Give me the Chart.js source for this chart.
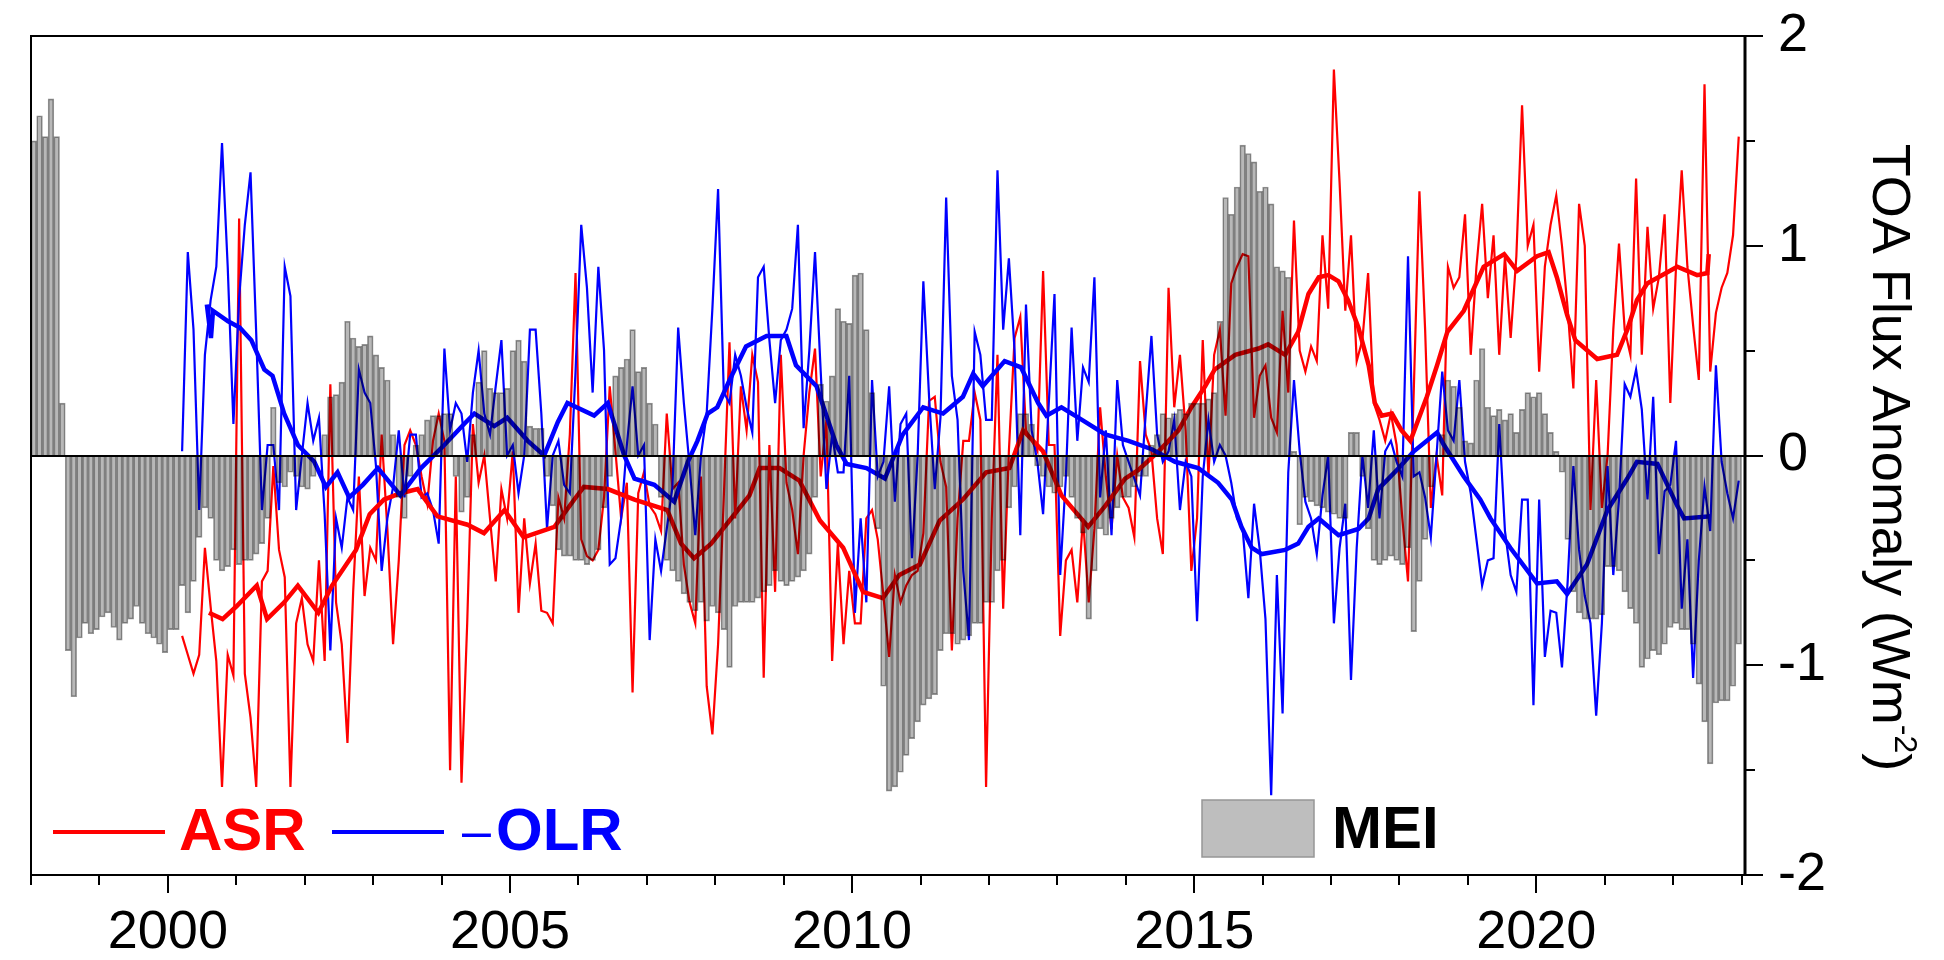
<!DOCTYPE html>
<html>
<head>
<meta charset="utf-8">
<script src="https://cdn.jsdelivr.net/npm/chart.js@4.4.1/dist/chart.umd.min.js"></script>
<style>
  html, body { margin: 0; padding: 0; background: #fff; }
  canvas { display: block; }
</style>
</head>
<body>
<canvas id="chart" width="1944" height="960"></canvas>
<script>
var FONT = "'Liberation Sans', Arial, sans-serif";

// MEI, monthly from Jan 1998 (one row per year)
var meiStart = 1998;
var meiValues = [
   1.50,  1.62,  1.52,  1.70,  1.52,  0.25, -0.93, -1.15, -0.87, -0.80, -0.85, -0.83,
  -0.77, -0.75, -0.82, -0.88, -0.80, -0.78, -0.72, -0.80, -0.85, -0.87, -0.90, -0.94,
  -0.83, -0.83, -0.62, -0.75, -0.60, -0.39, -0.25, -0.30, -0.50, -0.55, -0.53, -0.45,
  -0.52, -0.50, -0.50, -0.47, -0.42, -0.30,  0.23, -0.13, -0.15, -0.08, -0.10, -0.15,
  -0.16, -0.10,  0.00,  0.10,  0.28,  0.29,  0.35,  0.64,  0.56,  0.52,  0.53,  0.57,
   0.48,  0.42,  0.36,  0.10, -0.20, -0.30, -0.10,  0.05,  0.10,  0.17,  0.19,  0.19,
   0.20,  0.20, -0.10, -0.27, -0.20,  0.10,  0.35,  0.50,  0.32,  0.30,  0.30,  0.32,
   0.50,  0.55,  0.45,  0.14,  0.13,  0.13, -0.10, -0.24, -0.45, -0.48, -0.48, -0.50,
  -0.50, -0.52, -0.50, -0.45, -0.25, -0.10,  0.38,  0.42,  0.46,  0.60,  0.40,  0.42,
   0.25,  0.15, -0.20, -0.50, -0.55, -0.60, -0.66, -0.70, -0.74, -0.70, -0.79, -0.72,
  -0.75, -0.83, -1.01, -0.72, -0.70, -0.70, -0.70, -0.68, -0.65, -0.62, -0.55, -0.60,
  -0.62, -0.60, -0.58, -0.55, -0.47, -0.20,  0.34,  0.26,  0.38,  0.70,  0.64,  0.63,
   0.86,  0.87,  0.60,  0.30, -0.35, -1.10, -1.60, -1.58, -1.51, -1.43, -1.35, -1.27,
  -1.19, -1.16, -1.14, -0.93, -0.85, -0.85, -0.90, -0.88, -0.86, -0.80, -0.80, -0.70,
  -0.70, -0.55, -0.50, -0.25, -0.15,  0.20,  0.20,  0.15, -0.05, -0.10, -0.15, -0.18,
  -0.15, -0.10, -0.20, -0.30, -0.37, -0.78, -0.55, -0.35, -0.38, -0.30, -0.25, -0.20,
  -0.20, -0.15, -0.10, -0.10,  0.05,  0.10,  0.20,  0.18,  0.20,  0.22,  0.20,  0.25,
   0.25,  0.25,  0.27,  0.30,  0.64,  1.23,  1.15,  1.28,  1.48,  1.44,  1.40,  1.26,
   1.28,  1.20,  0.90,  0.88,  0.85,  0.02, -0.33, -0.20, -0.22, -0.24, -0.25, -0.27,
  -0.28, -0.30, -0.30,  0.11,  0.11, -0.10, -0.35, -0.50, -0.52, -0.50, -0.48, -0.50,
  -0.52, -0.44, -0.84, -0.60, -0.40, -0.15,  0.00,  0.10,  0.36,  0.33,  0.23,  0.07,
   0.06,  0.36,  0.51,  0.23,  0.19,  0.22,  0.17,  0.20,  0.11,  0.22,  0.30,  0.28,
   0.30,  0.20,  0.11,  0.02, -0.08, -0.40, -0.65, -0.75, -0.78, -0.78, -0.78, -0.76,
  -0.53, -0.53, -0.55, -0.65, -0.73, -0.80, -1.01, -0.97, -0.93, -0.95, -0.90, -0.82,
  -0.80, -0.83, -0.83, -0.90, -1.09, -1.27, -1.47, -1.18, -1.17, -1.17, -1.10, -0.90
];

// ASR and -OLR anomalies, monthly from Mar 2000
var fluxStart = 2000 + 2 / 12;
var asrValues = [
                 -0.86, -0.95, -1.04, -0.95, -0.44, -0.72, -0.98, -1.58, -0.95, -1.05,
   1.13, -1.04, -1.25, -1.58, -0.60, -0.55, -0.05, -0.45, -0.58, -1.58, -0.80, -0.68,
  -0.90, -0.98, -0.50, -0.98,  0.34, -0.70, -0.90, -1.37, -0.65, -0.10, -0.67, -0.44,
  -0.50,  0.10, -0.35, -0.90, -0.50,  0.05,  0.12,  0.05, -0.10, -0.23,  0.07,  0.20,
   0.07, -1.50, -0.10, -1.56, -0.80,  0.15, -0.13,  0.00, -0.30, -0.60, -0.16, -0.30,
   0.02, -0.75, -0.30, -0.61, -0.42, -0.74, -0.75, -0.80, -0.20, -0.30,  0.10,  0.87,
  -0.40, -0.48, -0.50, -0.45, -0.20,  0.33,  0.02, -0.30, -0.13, -1.13, -0.18, -0.08,
  -0.24, -0.28, -0.36,  0.20, -0.16, -0.13, -0.52, -0.70, -0.80, -0.10, -1.10, -1.33,
  -0.90, -0.20,  0.54, -0.30,  0.33,  0.12,  0.48,  0.35, -1.06,  0.05, -0.65,  0.48,
  -0.13, -0.26, -0.47,  0.00,  0.30,  0.51, -0.10,  0.17, -0.98, -0.42, -0.90, -0.55,
  -0.80, -0.80, -0.30, -0.26, -0.40, -0.67, -0.96, -0.57, -0.70, -0.62, -0.57, -0.55,
  -0.37,  0.26,  0.28, -0.03, -0.15, -0.93, -0.30,  0.07,  0.07,  0.30,  0.17, -1.58,
  -0.30,  0.48, -0.73,  0.02,  0.56,  0.66,  0.12,  0.07,  0.02,  0.88,  0.05,  0.05,
  -0.86, -0.50, -0.45, -0.70, -0.30, -0.70, -0.35,  0.23, -0.10, -0.35,  0.00, -0.20,
  -0.25, -0.39,  0.45,  0.10,  0.02, -0.30, -0.47,  0.80,  0.23,  0.48,  0.12, -0.55,
  -0.30,  0.55, -0.10,  0.48,  0.60,  0.19,  0.82,  0.90,  0.96,  0.95,  0.18,  0.38,
   0.43,  0.18,  0.11,  0.69,  0.30,  1.12,  0.50,  0.40,  0.52,  0.45,  1.05,  0.70,
   1.84,  1.30,  0.69,  1.05,  0.45,  0.55,  0.87,  0.25,  0.17,  0.07,  0.20,  0.05,
  -0.30, -0.60,  0.30,  1.26,  0.60, -0.25,  0.00, -0.19,  0.90,  0.80,  0.85,  1.15,
   0.48,  0.90,  1.20,  0.75,  1.05,  0.48,  0.95,  0.56,  0.95,  1.67,  1.00,  1.10,
   0.40,  0.90,  1.10,  1.24,  1.00,  0.70,  0.32,  1.20,  1.00, -0.26,  0.36, -0.25,
   0.00,  0.60,  1.01,  0.60,  0.48,  1.32,  0.48,  1.09,  0.70,  0.85,  1.15,  0.25,
   0.90,  1.36,  0.90,  0.62,  0.36,  1.77,  0.40,  0.68,  0.80,  0.87,  1.05,  1.52
];
var olrValues = [
                  0.02,  0.97,  0.60, -0.26,  0.48,  0.74,  0.90,  1.49,  0.90,  0.15,
   0.75,  1.10,  1.35,  0.58, -0.26,  0.05,  0.05, -0.26,  0.90,  0.76, -0.26,  0.00,
   0.25,  0.07,  0.18, -0.28, -0.93, -0.30, -0.44, -0.20, -0.26,  0.41,  0.30,  0.25,
  -0.05, -0.55, -0.30, -0.15,  0.12, -0.20,  0.10,  0.10, -0.20, -0.18, -0.26, -0.42,
   0.51,  0.12,  0.25,  0.20, -0.03,  0.30,  0.50,  0.20,  0.10,  0.33,  0.55,  0.00,
   0.05, -0.18,  0.00,  0.60,  0.60,  0.20, -0.35,  0.00,  0.07, -0.14, -0.18,  0.40,
   1.10,  0.80,  0.30,  0.90,  0.50, -0.52, -0.49, -0.30,  0.05,  0.33,  0.00,  0.05,
  -0.88, -0.40, -0.55, -0.35, -0.15,  0.61,  0.25, -0.05, -0.38,  0.00,  0.20,  0.70,
   1.27,  0.30,  0.25,  0.48,  0.38,  0.23,  0.11,  0.85,  0.90,  0.55,  0.25,  0.55,
   0.60,  0.70,  1.10,  0.13,  0.50,  0.97,  0.40, -0.16,  0.10, -0.08, -0.08,  0.38,
  -0.75, -0.30, -0.70,  0.36, -0.10, -0.03,  0.33, -0.22,  0.15,  0.20, -0.49,  0.00,
   0.83,  0.28, -0.16,  0.18,  1.23,  0.38,  0.17, -0.55, -0.88,  0.59,  0.48,  0.17,
   0.17,  1.36,  0.60,  0.94,  0.50, -0.38,  0.72,  0.12, -0.03, -0.28,  0.25,  0.77,
  -0.57, -0.10,  0.61,  0.07,  0.42,  0.35,  0.85, -0.20,  0.12, -0.38,  0.36,  0.05,
  -0.03, -0.11, -0.19,  0.20,  0.57,  0.10, -0.03,  0.02,  0.17, -0.26, -0.03, -0.10,
  -0.79, -0.10,  0.17, -0.03,  0.05,  0.00, -0.13, -0.30, -0.35, -0.68, -0.23, -0.45,
  -0.78, -1.62, -0.57, -1.23, -0.08,  0.36,  0.02, -0.22, -0.30, -0.47, -0.19,  0.00,
  -0.80, -0.44, -0.23, -1.07, -0.44,  0.00, -0.25,  0.12, -0.30,  0.02,  0.07, -0.03,
  -0.10,  0.95, -0.10, -0.08, -0.20, -0.39,  0.00,  0.40,  0.12,  0.07,  0.36, -0.03,
  -0.18, -0.40, -0.62, -0.50, -0.49,  0.15, -0.36, -0.57, -0.65, -0.21, -0.21, -1.19,
  -0.21, -0.96, -0.74, -0.75, -1.01, -0.60, -0.05, -0.45, -0.67, -0.80, -1.24, -0.80,
  -0.05, -0.57, -0.21,  0.34,  0.28,  0.41,  0.22, -0.21,  0.28, -0.47, -0.17, -0.14,
   0.07, -0.73, -0.40, -1.06, -0.50, -0.15, -0.36,  0.43, -0.03, -0.18, -0.30, -0.12
];

// 12-month running means
var asrMeanYears = [
  2000.6, 2000.8, 2001.0, 2001.3, 2001.45, 2001.7, 2001.9, 2002.2, 2002.4, 2002.75,
  2002.95, 2003.16, 2003.4, 2003.65, 2003.94, 2004.38, 2004.62, 2004.92, 2005.2, 2005.65,
  2005.94, 2006.08, 2006.43, 2006.82, 2007.3, 2007.5, 2007.69, 2007.94, 2008.21, 2008.5,
  2008.65, 2008.94, 2009.23, 2009.53, 2009.87, 2010.16, 2010.45, 2010.69, 2010.99, 2011.28,
  2011.62, 2011.96, 2012.3, 2012.5, 2012.79, 2013.06, 2013.45, 2013.7, 2013.99, 2014.18,
  2014.48, 2014.77, 2014.96, 2015.16, 2015.3, 2015.6, 2015.94, 2016.08, 2016.33, 2016.52,
  2016.67, 2016.82, 2016.96, 2017.11, 2017.25, 2017.4, 2017.55, 2017.64, 2017.74, 2017.89,
  2018.03, 2018.16, 2018.4, 2018.55, 2018.7, 2018.94, 2019.23, 2019.53, 2019.72, 2020.01,
  2020.18, 2020.3, 2020.45, 2020.57, 2020.89, 2021.18, 2021.33, 2021.47, 2021.62, 2022.06,
  2022.35, 2022.5, 2022.52
];
var asrMeanValues = [
  -0.75, -0.78, -0.72, -0.62, -0.78, -0.70, -0.62, -0.75, -0.62, -0.45,
  -0.28, -0.21, -0.18, -0.16, -0.29, -0.33, -0.37, -0.26, -0.39, -0.34,
  -0.21, -0.15, -0.16, -0.21, -0.26, -0.42, -0.49, -0.42, -0.31, -0.19,
  -0.06, -0.06, -0.12, -0.31, -0.44, -0.65, -0.68, -0.57, -0.52, -0.31,
  -0.21, -0.08, -0.06,  0.12,  0.02, -0.19, -0.34, -0.24, -0.11, -0.07,
   0.02,  0.12,  0.23,  0.33,  0.41,  0.48,  0.51,  0.53,  0.48,  0.59,
   0.77,  0.85,  0.86,  0.83,  0.74,  0.61,  0.43,  0.25,  0.19,  0.20,
   0.12,  0.07,  0.28,  0.43,  0.59,  0.69,  0.90,  0.96,  0.88,  0.95,
   0.97,  0.85,  0.67,  0.55,  0.46,  0.48,  0.60,  0.74,  0.82,  0.90,
   0.86,  0.87,  0.96
];
var olrMeanYears = [
  2000.57, 2000.63, 2000.66, 2000.88, 2001.05, 2001.22, 2001.41, 2001.53, 2001.7, 2001.9,
  2002.14, 2002.31, 2002.48, 2002.65, 2002.85, 2003.07, 2003.4, 2003.7, 2004.04, 2004.33,
  2004.48, 2004.77, 2004.96, 2005.26, 2005.5, 2005.7, 2005.84, 2006.23, 2006.43, 2006.67,
  2006.82, 2007.11, 2007.4, 2007.6, 2007.74, 2007.89, 2008.03, 2008.21, 2008.45, 2008.75,
  2009.04, 2009.18, 2009.48, 2009.77, 2009.92, 2010.21, 2010.48, 2010.74, 2011.04, 2011.33,
  2011.62, 2011.77, 2011.91, 2012.23, 2012.47, 2012.72, 2012.84, 2013.06, 2013.36, 2013.7,
  2014.04, 2014.38, 2014.72, 2015.06, 2015.35, 2015.55, 2015.69, 2015.84, 2015.99, 2016.33,
  2016.52, 2016.67, 2016.82, 2017.11, 2017.4, 2017.55, 2017.69, 2017.84, 2017.99, 2018.21,
  2018.55, 2018.65, 2018.94, 2019.18, 2019.33, 2019.62, 2020.01, 2020.3, 2020.45, 2020.74,
  2021.04, 2021.33, 2021.47, 2021.77, 2022.06, 2022.16, 2022.55
];
var olrMeanValues = [
   0.72,  0.56,  0.69,  0.64,  0.61,  0.55,  0.41,  0.38,  0.20,  0.05,
  -0.03, -0.15, -0.08, -0.20, -0.14, -0.06, -0.19, -0.06,  0.05,  0.15,
   0.20,  0.14,  0.18,  0.07,  0.00,  0.16,  0.25,  0.19,  0.25,  0.00,
  -0.11, -0.14, -0.22, -0.03,  0.07,  0.20,  0.23,  0.36,  0.52,  0.57,
   0.57,  0.43,  0.33,  0.05, -0.04, -0.06, -0.11,  0.10,  0.23,  0.20,
   0.28,  0.39,  0.33,  0.45,  0.42,  0.25,  0.19,  0.23,  0.17,  0.10,
   0.07,  0.03, -0.03, -0.06, -0.13, -0.21, -0.34, -0.44, -0.47, -0.45,
  -0.42, -0.34, -0.30, -0.38, -0.35, -0.30, -0.16, -0.11, -0.06,  0.02,
   0.11,  0.05, -0.10, -0.21, -0.30, -0.44, -0.61, -0.60, -0.66, -0.52,
  -0.26, -0.11, -0.03, -0.04, -0.24, -0.30, -0.29
];

var xTickYears = [2000, 2005, 2010, 2015, 2020];
var yTickValues = [-2, -1, 0, 1, 2];

function monthly(start, values) {
    return values.map(function(v, i) {
        return { x: start + (i + 0.5) / 12, y: v };
    });
}
function paired(xs, ys) {
    return xs.map(function(x, i) {
        return { x: x, y: ys[i] };
    });
}

// frame, ticks, zero line, legend and the axis title
var decorPlugin = {
    id: 'decor',
    beforeDatasetDraw: function(chart, args) {
        if (args.meta.type === 'bar') {
            chart.ctx.save();
            // bars darken the lines below them, as in the original
            chart.ctx.globalCompositeOperation = 'multiply';
        }
    },
    afterDatasetDraw: function(chart, args) {
        if (args.meta.type === 'bar') {
            chart.ctx.restore();
        }
    },
    afterDatasetsDraw: function(chart) {
        var ctx = chart.ctx;
        var a = chart.chartArea;
        var xs = chart.scales.x;
        var ys = chart.scales.y;
        ctx.save();

        ctx.strokeStyle = '#000';
        ctx.lineWidth = 2;
        var y0 = Math.round(ys.getPixelForValue(0));
        ctx.beginPath();
        ctx.moveTo(a.left, y0);
        ctx.lineTo(a.right, y0);
        ctx.stroke();

        ctx.strokeRect(a.left, a.top, a.right - a.left, a.bottom - a.top);
        ctx.lineWidth = 3;
        ctx.beginPath();
        ctx.moveTo(a.right, a.top);
        ctx.lineTo(a.right, a.bottom);
        ctx.stroke();

        ctx.lineWidth = 2;
        ctx.beginPath();
        for (var yr = 1998; yr <= 2023; yr++) {
            var px = Math.round(xs.getPixelForValue(yr));
            ctx.moveTo(px, a.bottom);
            ctx.lineTo(px, a.bottom + (yr % 5 === 0 ? 18 : 10));
        }
        for (var v = -2; v <= 2; v += 0.5) {
            var py = Math.round(ys.getPixelForValue(v));
            ctx.moveTo(a.right, py);
            ctx.lineTo(a.right + (v % 1 === 0 ? 18 : 10), py);
        }
        ctx.stroke();

        // legend
        var base = a.top + 814;
        ctx.textBaseline = 'alphabetic';
        ctx.textAlign = 'left';
        ctx.lineWidth = 4;
        ctx.strokeStyle = 'rgb(255,0,0)';
        ctx.beginPath();
        ctx.moveTo(a.left + 22, base - 18);
        ctx.lineTo(a.left + 134, base - 18);
        ctx.stroke();
        ctx.fillStyle = 'rgb(255,0,0)';
        ctx.font = 'bold 60px ' + FONT;
        ctx.fillText('ASR', a.left + 148, base);

        ctx.strokeStyle = 'rgb(0,0,255)';
        ctx.beginPath();
        ctx.moveTo(a.left + 301, base - 18);
        ctx.lineTo(a.left + 413, base - 18);
        ctx.stroke();
        ctx.fillStyle = 'rgb(0,0,255)';
        ctx.font = '52px ' + FONT;
        ctx.fillText('\u2013', a.left + 431, base - 2);
        ctx.font = 'bold 60px ' + FONT;
        ctx.fillText('OLR', a.left + 465, base);

        ctx.fillStyle = 'rgb(190,190,190)';
        ctx.strokeStyle = 'rgb(150,150,150)';
        ctx.lineWidth = 1.5;
        ctx.fillRect(a.left + 1171, base - 50, 112, 57);
        ctx.strokeRect(a.left + 1171, base - 50, 112, 57);
        ctx.fillStyle = '#000';
        ctx.fillText('MEI', a.left + 1301, base - 2);

        // right-hand axis title, read top to bottom, with superscript
        var main = 'TOA Flux Anomaly (Wm';
        var sup = '-2';
        ctx.font = '54px ' + FONT;
        var wMain = ctx.measureText(main).width;
        var wClose = ctx.measureText(')').width;
        ctx.font = '32px ' + FONT;
        var wSup = ctx.measureText(sup).width;
        var total = wMain + wSup + wClose;
        var start = (a.top + a.bottom) / 2 + 2 - total / 2;
        ctx.translate(a.right + 128, 0);
        ctx.rotate(Math.PI / 2);
        ctx.fillStyle = '#000';
        ctx.font = '54px ' + FONT;
        ctx.fillText(main, start, 0);
        ctx.font = '32px ' + FONT;
        ctx.fillText(sup, start + wMain, -22);
        ctx.font = '54px ' + FONT;
        ctx.fillText(')', start + wMain + wSup, 0);

        ctx.restore();
    }
};

var ctx = document.getElementById('chart').getContext('2d');
new Chart(ctx, {
    type: 'bar',
    data: {
        datasets: [
            {
                type: 'bar',
                label: 'MEI',
                data: monthly(meiStart, meiValues),
                backgroundColor: 'rgb(184,184,184)',
                borderColor: 'rgb(148,148,148)',
                borderWidth: 1,
                barPercentage: 1,
                categoryPercentage: 1,
                order: 0
            },
            {
                type: 'line',
                label: 'ASR',
                data: monthly(fluxStart, asrValues),
                borderColor: 'rgb(255,0,0)',
                borderWidth: 2.2,
                pointRadius: 0,
                tension: 0,
                fill: false,
                order: 4
            },
            {
                type: 'line',
                label: '-OLR',
                data: monthly(fluxStart, olrValues),
                borderColor: 'rgb(0,0,255)',
                borderWidth: 2.2,
                pointRadius: 0,
                tension: 0,
                fill: false,
                order: 3
            },
            {
                type: 'line',
                label: 'ASR 12-month mean',
                data: paired(asrMeanYears, asrMeanValues),
                borderColor: 'rgb(255,0,0)',
                borderWidth: 4.5,
                pointRadius: 0,
                tension: 0,
                fill: false,
                order: 2
            },
            {
                type: 'line',
                label: '-OLR 12-month mean',
                data: paired(olrMeanYears, olrMeanValues),
                borderColor: 'rgb(0,0,255)',
                borderWidth: 4.5,
                pointRadius: 0,
                tension: 0,
                fill: false,
                order: 1
            }
        ]
    },
    options: {
        responsive: false,
        devicePixelRatio: 1,
        animation: false,
        layout: { padding: { left: 31, top: 36, right: 0, bottom: 0 } },
        plugins: {
            legend: { display: false },
            tooltip: { enabled: false }
        },
        scales: {
            x: {
                type: 'linear',
                min: 1998,
                max: 2023.05,
                offset: false,
                grid: { display: false, drawTicks: false },
                border: { display: false },
                afterBuildTicks: function(scale) {
                    scale.ticks = xTickYears.map(function(v) { return { value: v }; });
                },
                afterFit: function(scale) { scale.height = 85; },
                ticks: {
                    autoSkip: false,
                    maxRotation: 0,
                    padding: 26,
                    color: '#000',
                    font: { family: FONT, size: 54 },
                    callback: function(v) { return String(v); }
                }
            },
            y: {
                position: 'right',
                min: -2,
                max: 2,
                grid: { display: false, drawTicks: false },
                border: { display: false },
                afterBuildTicks: function(scale) {
                    scale.ticks = yTickValues.map(function(v) { return { value: v }; });
                },
                afterFit: function(scale) { scale.width = 199; },
                ticks: {
                    padding: 33,
                    color: '#000',
                    // tiny line height keeps the label padding from pushing the plot down
                    font: { family: FONT, size: 54, lineHeight: 0.05 },
                    callback: function(v) { return String(v); }
                }
            }
        }
    },
    plugins: [decorPlugin]
});
</script>
</body>
</html>
